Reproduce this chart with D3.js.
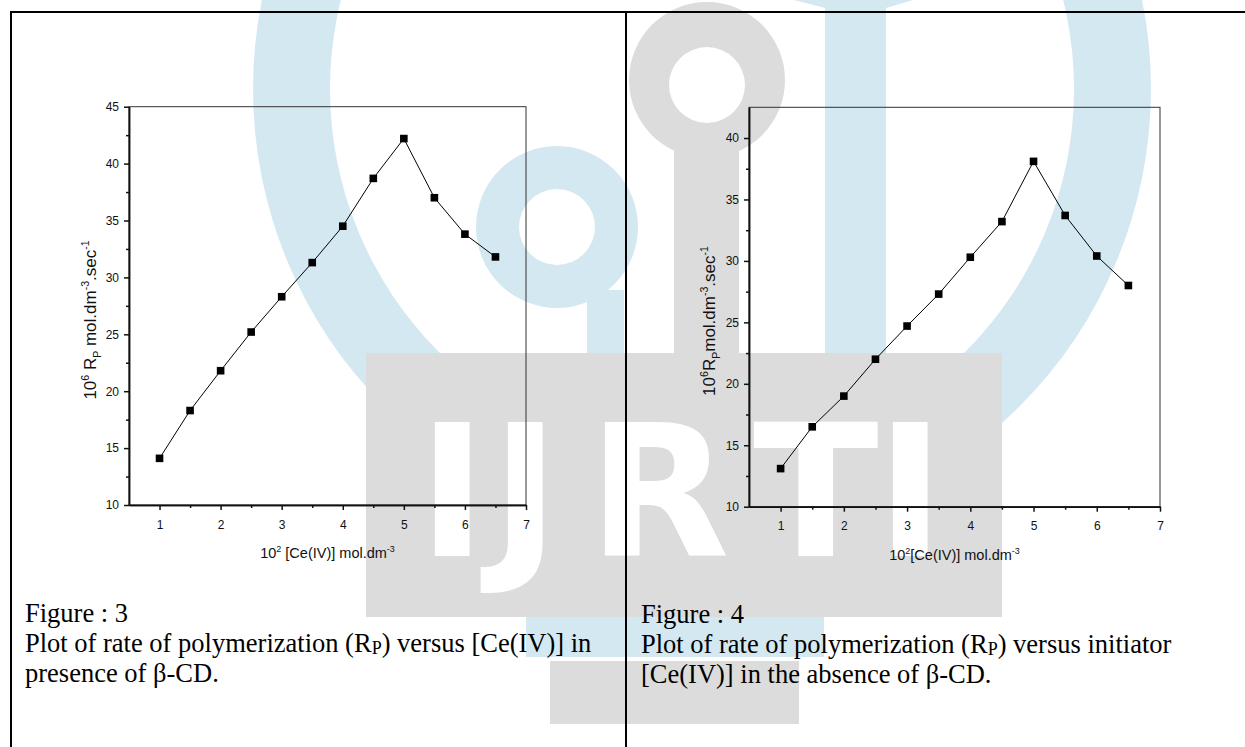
<!DOCTYPE html>
<html>
<head>
<meta charset="utf-8">
<script src="https://cdn.jsdelivr.net/npm/d3@7"></script>
<style>
html, body { margin: 0; padding: 0; background: #fff; }
svg { display: block; }
.tick text { font-family: "Liberation Sans", Arial, sans-serif; font-size: 12px; fill: #111; }
.caption { font-family: "Liberation Serif", "Times New Roman", serif; font-size: 26.5px; fill: #000; }
.atitle { font-family: "Liberation Sans", Arial, sans-serif; fill: #111; }
</style>
</head>
<body>
<div id="root"></div>
<script>
// concentration of Ce(IV), x 10^2 mol/dm3
const ceConc = [1, 1.5, 2, 2.5, 3, 3.5, 4, 4.5, 5, 5.5, 6, 6.5];
// 10^6 Rp, presence of beta-CD (figure 3)
const rpWithCD = [14.1, 18.3, 21.8, 25.2, 28.3, 31.3, 34.5, 38.7, 42.2, 37.0, 33.8, 31.8];
// 10^6 Rp, absence of beta-CD (figure 4)
const rpWithoutCD = [13.1, 16.5, 19.0, 22.0, 24.7, 27.3, 30.3, 33.2, 38.1, 33.7, 30.4, 28.0];

const xMajor = [1, 2, 3, 4, 5, 6, 7];
const xMinor = [1.5, 2.5, 3.5, 4.5, 5.5, 6.5];
const yMajor3 = [10, 15, 20, 25, 30, 35, 40, 45];
const yMinor3 = [12.5, 17.5, 22.5, 27.5, 32.5, 37.5, 42.5];
const yMajor4 = [10, 15, 20, 25, 30, 35, 40];
const yMinor4 = [12.5, 17.5, 22.5, 27.5, 32.5, 37.5];

const W = 1245, H = 747;
const blue = "#d4e8f2", grey = "#dcdcdc";

const svg = d3.select("#root").append("svg")
    .attr("width", W)
    .attr("height", H);

// ---- journal watermark in the background ----
const wm = svg.append("g");
const ring = (cx, cy, r0, r1, fill) => wm.append("path")
    .attr("transform", `translate(${cx},${cy})`)
    .attr("d", d3.arc().innerRadius(r0).outerRadius(r1).startAngle(0).endAngle(2 * Math.PI)())
    .attr("fill", fill);
const box = (x, y, w, h, fill) => wm.append("rect")
    .attr("x", x).attr("y", y).attr("width", w).attr("height", h).attr("fill", fill);

ring(702, 89, 372, 449, blue);
ring(557, 227, 38, 81, blue);
box(587, 290, 37, 63, blue);
box(825, 0, 61, 353, blue);
wm.append("polygon").attr("points", "794,0 913,0 886,8 825,8").attr("fill", blue);

const head = d3.path();
head.moveTo(707 + 78, 80); head.arc(707, 80, 78, 0, 2 * Math.PI);
head.moveTo(707 + 38, 85); head.arc(707, 85, 38, 0, 2 * Math.PI);
wm.append("path").attr("d", head.toString()).attr("fill", grey).attr("fill-rule", "evenodd");
box(674, 140, 65, 213, grey);
box(366, 353, 636, 264, grey);
box(526, 617, 298, 40, blue);
box(550, 661, 249, 63, grey);
wm.append("text")
    .attr("x", "418 491 588 753 876").attr("y", 556)
    .style("font-family", "DejaVu Sans, sans-serif")
    .style("font-weight", "bold")
    .style("font-size", "184px")
    .attr("fill", "#fff")
    .text("IJRTI");

// ---- table borders ----
const border = svg.append("g").attr("stroke", "#000").attr("stroke-width", 2);
border.append("line").attr("x1", 11).attr("y1", 12).attr("x2", W).attr("y2", 12);
border.append("line").attr("x1", 11).attr("y1", 11).attr("x2", 11).attr("y2", H);
border.append("line").attr("x1", 626).attr("y1", 11).attr("x2", 626).attr("y2", H);

// text with super/subscripts
function rich(text, parts, size) {
    let shift = 0;
    parts.forEach(p => {
        const target = p.sup ? -size * 0.42 : p.sub ? size * 0.3 : 0;
        text.append("tspan")
            .attr("dy", target - shift)
            .attr("font-size", (p.sup || p.sub) ? size * 0.62 : size)
            .text(p.t);
        shift = target;
    });
}

function drawChart(cfg) {
    const x = d3.scaleLinear().domain([0.5, 7]).range([cfg.left, cfg.right]);
    const y = d3.scaleLinear().domain(cfg.yDomain).range([cfg.bottom, cfg.top]);
    const g = svg.append("g");

    g.append("rect")
        .attr("x", cfg.left).attr("y", cfg.top)
        .attr("width", cfg.right - cfg.left).attr("height", cfg.bottom - cfg.top)
        .attr("fill", "none").attr("stroke", "#333").attr("stroke-width", 1);

    const xAxis = g.append("g")
        .attr("transform", `translate(0,${cfg.bottom})`)
        .call(d3.axisBottom(x).tickValues(xMajor).tickSize(5).tickSizeOuter(0).tickPadding(10).tickFormat(d3.format("d")));
    const xMin = g.append("g")
        .attr("transform", `translate(0,${cfg.bottom})`)
        .call(d3.axisBottom(x).tickValues(xMinor).tickSize(3).tickSizeOuter(0).tickFormat(""));
    const yAxis = g.append("g")
        .attr("transform", `translate(${cfg.left},0)`)
        .call(d3.axisLeft(y).tickValues(cfg.yMajor).tickSize(5).tickSizeOuter(0).tickPadding(5).tickFormat(d3.format("d")));
    const yMin = g.append("g")
        .attr("transform", `translate(${cfg.left},0)`)
        .call(d3.axisLeft(y).tickValues(cfg.yMinor).tickSize(3).tickSizeOuter(0).tickFormat(""));
    [xAxis, xMin, yAxis, yMin].forEach(a => {
        a.selectAll("path, line").attr("stroke", "#111").attr("stroke-width", 1.5);
    });

    const pts = d3.zip(ceConc, cfg.values);
    g.append("path")
        .datum(pts)
        .attr("fill", "none")
        .attr("stroke", "#000")
        .attr("stroke-width", 1)
        .attr("d", d3.line().x(d => x(d[0])).y(d => y(d[1])));

    g.selectAll(".pt")
        .data(pts)
        .enter()
        .append("rect")
        .attr("class", "pt")
        .attr("x", d => x(d[0]) - 3.8)
        .attr("y", d => y(d[1]) - 3.8)
        .attr("width", 7.6)
        .attr("height", 7.6)
        .attr("fill", "#000");

    const xt = g.append("text")
        .attr("class", "atitle")
        .attr("x", (cfg.left + cfg.right) / 2)
        .attr("y", cfg.xTitleY)
        .attr("text-anchor", "middle");
    rich(xt, cfg.xTitle, 14.5);

    const yt = g.append("text")
        .attr("class", "atitle")
        .attr("transform", "rotate(-90)")
        .attr("x", -cfg.yTitleMid)
        .attr("y", cfg.yTitleX)
        .attr("text-anchor", "middle");
    rich(yt, cfg.yTitle, 17);
}

drawChart({
    left: 129, right: 526, top: 106.7, bottom: 505,
    yDomain: [10, 45], yMajor: yMajor3, yMinor: yMinor3,
    values: rpWithCD,
    xTitleY: 558,
    xTitle: [{t: "10"}, {t: "2", sup: true}, {t: " [Ce(IV)] mol.dm"}, {t: "-3", sup: true}],
    yTitleMid: 320, yTitleX: 96,
    yTitle: [{t: "10"}, {t: "6", sup: true}, {t: " R"}, {t: "P", sub: true}, {t: " mol.dm"}, {t: "-3", sup: true}, {t: ".sec"}, {t: "-1", sup: true}]
});

drawChart({
    left: 749, right: 1160, top: 107.3, bottom: 506.7,
    yDomain: [10, 42.5], yMajor: yMajor4, yMinor: yMinor4,
    values: rpWithoutCD,
    xTitleY: 560,
    xTitle: [{t: "10"}, {t: "2", sup: true}, {t: "[Ce(IV)] mol.dm"}, {t: "-3", sup: true}],
    yTitleMid: 321, yTitleX: 715,
    yTitle: [{t: "10"}, {t: "6", sup: true}, {t: "R"}, {t: "P", sub: true}, {t: "mol.dm"}, {t: "-3", sup: true}, {t: ".sec"}, {t: "-1", sup: true}]
});

// ---- captions ----
function caption(x, y0, lines) {
    lines.forEach((parts, i) => {
        const t = svg.append("text").attr("class", "caption").attr("x", x).attr("y", y0 + i * 30);
        let shift = 0;
        parts.forEach(p => {
            const target = p.sub ? 2 : 0;
            t.append("tspan").attr("dy", target - shift).attr("font-size", p.sub ? 18 : 26.5).text(p.t);
            shift = target;
        });
    });
}

caption(25, 622, [
    [{t: "Figure : 3"}],
    [{t: "Plot of rate of polymerization (R"}, {t: "P", sub: true}, {t: ") versus [Ce(IV)] in"}],
    [{t: "presence of \u03b2-CD."}]
]);
caption(641, 623, [
    [{t: "Figure : 4"}],
    [{t: "Plot of rate of polymerization (R"}, {t: "P", sub: true}, {t: ") versus initiator"}],
    [{t: "[Ce(IV)] in the absence of \u03b2-CD."}]
]);
</script>
</body>
</html>
